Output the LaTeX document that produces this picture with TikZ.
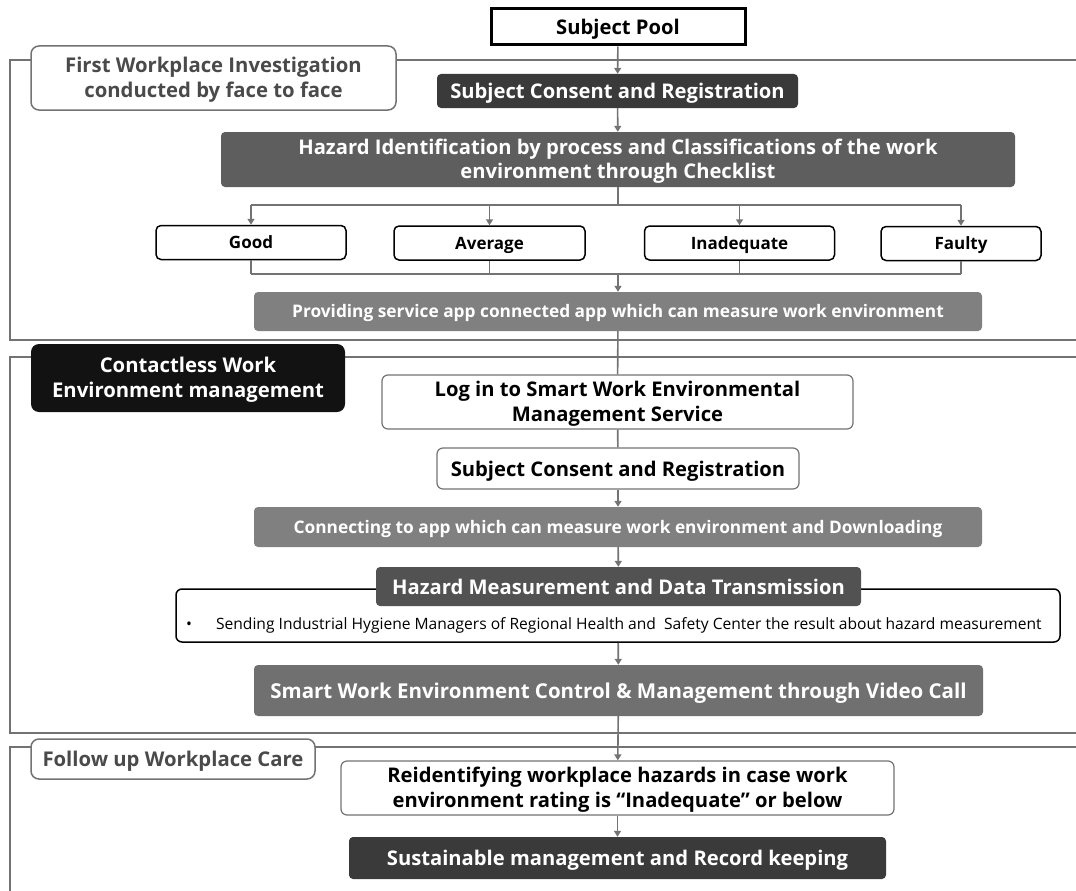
\documentclass[tikz,border=0pt]{standalone}
\usepackage{fontspec}
\setmainfont{Open Sans}
\usetikzlibrary{arrows.meta}
\definecolor{linegray}{HTML}{737373}
\definecolor{darkfill}{HTML}{3A3A3A}
\definecolor{midfill}{HTML}{5E5E5E}
\definecolor{lightfill}{HTML}{808080}
\definecolor{labeltext}{HTML}{4A4A4A}
% struts for two-line boxes
\newcommand\topstrut{\rule{0pt}{0.95em}}
\newcommand\botstrut{\rule[-0.2em]{0pt}{0pt}}
\tikzset{
	flow/.style={draw=linegray, line width=1.6pt},
	arr/.style={flow, -{Triangle[width=7pt,length=6pt]}},
	frame/.style={draw=linegray, line width=1.8pt},
	onebig/.style={text height=19.2pt, text depth=4pt},
	onesmall/.style={text height=16.4pt, text depth=3.5pt},
	darkbox/.style={fill=darkfill, text=white, rounded corners=4pt, font=\bfseries\fontsize{20.2}{24.5}\selectfont, align=center, inner sep=0pt},
	greybox/.style={fill=lightfill, text=white, rounded corners=4pt, font=\bfseries\fontsize{17.3}{21}\selectfont, align=center, inner sep=0pt, onesmall},
	whitebox/.style={draw=linegray, fill=white, line width=1.2pt, rounded corners=6pt, font=\bfseries\fontsize{20.2}{24.5}\selectfont, align=center, inner sep=0pt},
	ratebox/.style={draw=black, fill=white, line width=1.5pt, rounded corners=5pt, font=\bfseries\fontsize{17}{20}\selectfont, minimum height=34pt, inner sep=0pt, onesmall},
	seclabel/.style={draw=linegray, fill=white, line width=1.5pt, rounded corners=8pt, text=labeltext, font=\bfseries\fontsize{20.3}{24.5}\selectfont, align=center, inner sep=0pt},
}
\begin{document}
\begin{tikzpicture}[x=1pt,y=-1pt]
	\useasboundingbox (0,0) rectangle (1076,891);

	% section frames
	\draw[frame] (1076,60) -- (10,60) -- (10,340) -- (1076,340);
	\draw[frame] (1076,357) -- (10,357) -- (10,733) -- (1076,733);
	\draw[frame] (1076,747) -- (10,747) -- (10,891);

	% section 1
	\node (pool) [draw=black, fill=white, line width=3pt, minimum width=254pt, minimum height=36pt, inner sep=0pt, onebig, font=\bfseries\fontsize{20.2}{24}\selectfont] at (618,27) {Subject Pool};
	\node (labfirst) [seclabel, minimum width=365pt, minimum height=64pt] at (213.5,78) {\topstrut First Workplace Investigation\\conducted by face to face\botstrut};
	\node (consent) [darkbox, onebig, minimum width=361pt, minimum height=34pt] at (617.5,91) {Subject Consent and Registration};
	\node (hazid) [darkbox, fill=midfill, minimum width=794pt, minimum height=55pt] at (618,159.5) {\topstrut Hazard Identification by process and Classifications of the work\\environment through Checklist\botstrut};
	\node (good) [ratebox, minimum width=190pt] at (251,242.5) {Good};
	\node (average) [ratebox, minimum width=191pt] at (489.5,243) {Average};
	\node (inadequate) [ratebox, minimum width=190pt] at (739.5,243) {Inadequate};
	\node (faulty) [ratebox, minimum width=160pt] at (961,243.5) {Faulty};
	\node (provide) [greybox, minimum width=728pt, minimum height=39pt] at (618,311.5) {Providing service app connected app which can measure work environment};
	\coordinate (split) at (618,205);
	\coordinate (join) at (618,274);

	\draw[arr] (pool) -- (consent);
	\draw[arr] (consent) -- (hazid);
	\draw[flow] (hazid) -- (split);
	\draw[flow] (good.north |- split) -- (faulty.north |- split);
	\foreach \r in {good,average,inadequate,faulty}
		\draw[arr] (\r.north |- split) -- (\r.north);
	\foreach \r in {good,average,inadequate,faulty}
		\draw[flow] (\r.south) -- (\r.south |- join);
	\draw[flow] (good.south |- join) -- (faulty.south |- join);
	\draw[arr] (join) -- (provide);

	% section 2
	\node (labcontact) [seclabel, draw=none, fill=black!93, text=white, minimum width=314pt, minimum height=68pt] at (188,378) {\topstrut Contactless Work\\Environment management\botstrut};
	\node (login) [whitebox, minimum width=471pt, minimum height=54pt] at (617.5,402) {\topstrut Log in to Smart Work Environmental\\Management Service\botstrut};
	\node (consenttwo) [whitebox, onebig, minimum width=362pt, minimum height=41pt] at (618,468.5) {Subject Consent and Registration};
	\node (connect) [greybox, minimum width=728pt, minimum height=40pt] at (618,527) {Connecting to app which can measure work environment and Downloading};
	\node (detail) [draw=black, fill=white, line width=1.5pt, rounded corners=6pt, minimum width=884pt, minimum height=53pt, inner sep=0pt] at (618,615.5) {};
	\node (send) [anchor=base west, font=\fontsize{15.6}{18}\selectfont, inner sep=0pt] at (186,629) {\textbullet\hspace{24pt}Sending Industrial Hygiene Managers of Regional Health and\ \ Safety Center the result about hazard measurement};
	\node (measure) [darkbox, onebig, fill=black!68, minimum width=485pt, minimum height=39pt] at (618.5,586.5) {Hazard Measurement and Data Transmission};
	\node (video) [darkbox, onebig, fill=black!56, font=\bfseries\fontsize{20.5}{24}\selectfont, minimum width=729pt, minimum height=51pt] at (618.5,690.5) {Smart Work Environment Control \& Management through Video Call};

	\draw[flow] (provide) -- (login);
	\draw[flow] (login) -- (consenttwo);
	\draw[arr] (consenttwo) -- (connect);
	\draw[arr] (connect) -- (measure);
	\draw[arr] (detail) -- (video);

	% section 3
	\node (labfollow) [seclabel, onebig, minimum width=284pt, minimum height=40pt] at (173,759) {Follow up Workplace Care};
	\node (reident) [whitebox, minimum width=553pt, minimum height=54pt] at (617.5,788) {\topstrut Reidentifying workplace hazards in case work\\environment rating is “Inadequate” or below\botstrut};
	\node (record) [darkbox, onebig, minimum width=537pt, minimum height=42pt] at (617.5,858) {Sustainable management and Record keeping};

	\draw[arr] (video) -- (reident);
	\draw[arr] (reident) -- (record);
\end{tikzpicture}
\end{document}
